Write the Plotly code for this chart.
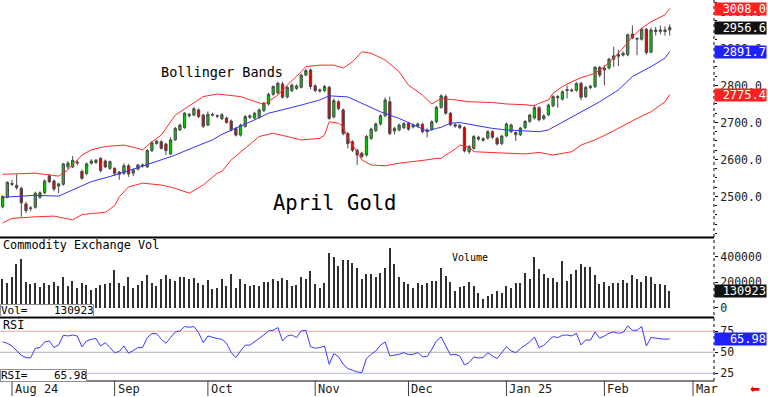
import plotly.graph_objects as go
import pandas as pd

# ---------------- data ----------------
opens = [2472,2498,2535,2530,2522,2480,2467,2471,2498,2510,2556,2542,2528,2533,2580,2580,2593,2568,2562,2590,
         2592,2603,2596,2576,2576,2566,2563,2583,2563,2574,2583,2580,2624,2643,2648,2642,2615,2653,2680,2686,
         2718,2720,2734,2720,2693,2722,2718,2710,2712,2704,2684,2666,2689,2714,2712,2714,2732,2750,2776,2780,
         2804,2769,2786,2792,2795,2828,2842,2799,2785,2786,2795,2715,2756,2734,2670,2648,2625,2617,2612,2657,
         2678,2696,2718,2756,2677,2680,2686,2698,2688,2690,2695,2675,2682,2702,2741,2770,2725,2694,2692,2686,
         2621,2630,2655,2652,2658,2675,2657,2643,2664,2675,2673,2667,2686,2703,2712,2740,2710,2721,2745,2770,
         2763,2786,2788,2787,2806,2770,2794,2797,2849,2847,2847,2871,2884,2882,2883,2939,2925,2925,2952,2890,
         2950,2946,2950,2950]
highs = [2503,2541,2545,2560,2526,2486,2474,2513,2514,2546,2561,2546,2537,2591,2596,2609,2598,2573,2592,2601,
         2601,2606,2600,2597,2579,2569,2590,2588,2575,2588,2589,2628,2650,2653,2652,2645,2660,2688,2697,2728,
         2726,2742,2738,2724,2730,2727,2722,2725,2716,2708,2688,2697,2720,2722,2729,2738,2756,2780,2800,2810,
         2810,2799,2805,2803,2832,2845,2846,2803,2792,2801,2799,2765,2760,2738,2674,2652,2629,2621,2666,2686,
         2700,2722,2768,2770,2688,2697,2701,2702,2697,2700,2699,2684,2706,2745,2776,2776,2729,2698,2696,2690,
         2639,2666,2664,2660,2679,2679,2661,2667,2700,2697,2676,2688,2706,2723,2748,2744,2722,2750,2774,2774,
         2787,2800,2792,2809,2810,2799,2802,2853,2853,2855,2875,2905,2896,2892,2940,2962,2930,2956,2956,2956,
         2958,2962,2960,2965]
lows = [2468,2495,2528,2518,2445,2455,2460,2467,2494,2506,2536,2514,2509,2529,2574,2577,2584,2545,2557,2586,
        2588,2565,2577,2572,2555,2545,2558,2553,2555,2570,2578,2577,2620,2640,2627,2612,2612,2650,2677,2683,
        2714,2717,2712,2685,2690,2716,2712,2706,2697,2676,2662,2662,2686,2710,2708,2710,2728,2746,2772,2776,
        2765,2765,2782,2788,2792,2825,2790,2782,2780,2782,2707,2711,2733,2665,2630,2620,2585,2603,2608,2653,
        2674,2692,2714,2666,2668,2676,2682,2678,2684,2686,2671,2660,2678,2698,2737,2721,2690,2686,2682,2619,
        2615,2626,2651,2648,2654,2656,2638,2639,2660,2671,2650,2663,2682,2699,2708,2703,2706,2717,2741,2740,
        2759,2765,2782,2783,2760,2766,2790,2793,2822,2800,2843,2850,2852,2878,2879,2925,2882,2921,2883,2887,
        2935,2938,2935,2935]
closes = [2500,2538,2533,2524,2483,2462,2469,2509,2510,2542,2540,2520,2534,2588,2590,2598,2591,2549,2588,2596,
          2598,2570,2580,2594,2563,2560,2583,2561,2572,2585,2585,2624,2645,2650,2630,2624,2653,2684,2693,2725,
          2722,2737,2716,2690,2722,2720,2717,2721,2700,2680,2666,2693,2716,2718,2725,2734,2752,2776,2797,2806,
          2768,2795,2801,2799,2828,2840,2797,2786,2788,2797,2711,2759,2737,2670,2643,2625,2612,2608,2662,2682,
          2696,2718,2761,2670,2684,2693,2697,2682,2693,2696,2675,2680,2702,2741,2772,2725,2694,2690,2686,2623,
          2635,2662,2660,2656,2675,2660,2642,2663,2696,2693,2667,2685,2703,2720,2740,2707,2718,2747,2770,2767,
          2783,2789,2786,2805,2768,2795,2798,2849,2828,2842,2871,2880,2879,2887,2937,2928,2927,2952,2889,2950,
          2946,2950,2946,2956.6]

volume = [221,195,242,339,378,200,187,190,163,195,174,200,169,242,169,208,156,195,174,137,
          156,174,182,195,292,195,169,242,156,174,208,252,195,169,221,252,226,208,242,242,
          221,234,195,174,216,148,156,221,169,260,156,221,182,169,174,169,200,200,226,208,
          234,216,169,174,242,226,286,182,156,190,425,399,326,373,373,346,312,226,260,260,
          242,268,312,469,339,242,200,182,156,195,174,195,208,208,307,247,200,129,163,169,
          200,169,111,64,90,103,129,116,169,150,195,195,268,226,399,299,260,234,234,203,
          365,208,260,294,339,320,318,252,182,200,169,190,190,216,190,252,226,200,247,242,
          182,182,177,130.923]
volume = [v * 1000 for v in volume]

rsi = [62.3,60.7,57.5,51.6,46.4,43.6,43.3,54.8,55.6,62.3,63.5,55.6,58.7,70.2,69.4,70.6,69.4,56.4,63.5,65.5,
       66.3,57.5,61.5,55.6,49.6,50.8,57.5,48.8,52.4,55.6,55.6,67.5,72.2,72.2,65.5,60.7,67.5,74.2,75.4,80.6,
       79.8,80.6,73.4,61.5,69.4,67.5,66.3,65.5,60.7,49.6,43.6,51.6,58.5,58.5,62.3,66.3,70.6,75.4,76.2,79.4,
       63.5,69.4,70.6,67.5,75.4,76.2,56.7,54.8,55.6,57.5,35.7,48.4,44.8,35.7,30.6,28.6,26.6,25.8,42.5,47.6,
       51.6,58.5,62.3,45.6,46.4,47.6,49.6,47.2,47.6,49.6,44.8,44.8,53.6,63.5,68.3,57.5,46.8,47.6,45.6,34.9,
       37.7,44.4,43.3,43.6,49.6,45.6,42.5,49.6,56.7,51.6,49.6,54.4,58.3,62.3,68.3,55.6,58.3,63.5,68.7,67.5,
       70.2,70.6,69.4,72.6,58.7,64.7,64.3,74.2,66.7,69.4,72.6,74.2,72.6,73.4,81.3,76.2,76.2,80.6,57.5,67.5,
       66.7,66.7,65.5,65.98]

upper_idx = [0,7,12,14,17,19,22,26,29,30,32,34,37,39,41,43,46,48,51,54,56,59,61,64,65,68,71,73,75,77,79,82,85,87,
             90,92,94,97,100,105,108,112,114,115,117,118,120,122,124,127,129,131,133,135,137,139,142,143]
upper = [2560,2563,2555,2572,2612,2626,2635,2639,2630,2626,2648,2666,2720,2736,2752,2770,2777,2774,2770,2757,2749,
         2774,2801,2837,2851,2855,2855,2847,2864,2891,2887,2869,2837,2801,2774,2750,2765,2761,2756,2754,2750,2748,
         2745,2752,2761,2779,2797,2810,2821,2833,2851,2874,2901,2932,2955,2972,2991,3008.0]
middle_idx = [0,3,7,12,15,19,23,27,30,34,37,41,45,47,50,54,57,61,64,68,70,74,77,81,85,88,91,93,94,96,98,101,105,108,
              112,115,117,118,121,124,128,132,135,139,142,143]
middle = [2498,2501,2503,2501,2518,2540,2554,2569,2582,2599,2612,2633,2653,2668,2684,2707,2725,2737,2747,2761,2772,
          2769,2752,2729,2711,2693,2677,2684,2687,2698,2700,2693,2684,2680,2678,2675,2680,2687,2707,2729,2756,2788,
          2824,2851,2874,2891.7]
lower_idx = [0,2,7,11,15,17,19,22,24,25,27,30,34,37,40,43,46,47,49,52,55,58,61,64,68,69,70,72,73,74,76,77,79,82,85,
             88,91,93,94,95,97,98,100,101,105,108,112,115,118,122,124,127,130,134,136,139,142,143]
lower = [2428,2441,2445,2447,2437,2451,2454,2457,2475,2499,2526,2536,2531,2522,2509,2531,2563,2568,2599,2630,2662,
         2671,2662,2653,2657,2666,2702,2698,2689,2657,2621,2599,2585,2583,2590,2594,2599,2603,2603,2612,2628,2639,
         2633,2621,2618,2617,2615,2619,2612,2621,2639,2653,2671,2698,2711,2729,2756,2775.4]

price_ticks = [2500, 2600, 2700, 2800, 2900, 3000]
vol_ticks = [0, 200000, 400000]
rsi_ticks = [25, 50, 75]
month_labels = ["Aug 24", "Sep", "Oct", "Nov", "Dec", "Jan 25", "Feb", "Mar"]
holidays = ["2024-09-02", "2024-11-28", "2024-12-25", "2025-01-01", "2025-01-20", "2025-02-17"]

# ---------------- positions ----------------
days = [d for d in pd.bdate_range("2024-07-30", "2025-03-07") if d.strftime("%Y-%m-%d") not in holidays]
idx = list(range(len(closes)))
month_pos = [k for k in range(1, len(days)) if days[k].month != days[k - 1].month]

W, H = 768, 397
PL, PR, PT, PB = 0, 714, 0, 381
def px(x):
    return (x - PL) / (PR - PL)
def py(y):
    return (PB - y) / (PB - PT)

MONO = "DejaVu Sans Mono"

fig = go.Figure()
fig.add_trace(go.Candlestick(
    x=idx, open=opens, high=highs, low=lows, close=closes,
    increasing=dict(fillcolor="#00cc00", line=dict(color="#4a4a4a", width=1)),
    decreasing=dict(fillcolor="#dd0000", line=dict(color="#4a4a4a", width=1)),
    whiskerwidth=0, xaxis="x", yaxis="y", hoverinfo="skip"))
fig.add_trace(go.Scatter(x=upper_idx, y=upper, mode="lines", line=dict(color="#ff2a2a", width=1), yaxis="y"))
fig.add_trace(go.Scatter(x=lower_idx, y=lower, mode="lines", line=dict(color="#ff2a2a", width=1), yaxis="y"))
fig.add_trace(go.Scatter(x=middle_idx, y=middle, mode="lines", line=dict(color="#3333ff", width=1), yaxis="y"))
fig.add_trace(go.Bar(x=idx, y=volume, width=0.32, marker=dict(color="#303030", line=dict(width=0)), yaxis="y2"))
fig.add_trace(go.Scatter(x=idx, y=rsi, mode="lines", line=dict(color="#3a3aff", width=1), yaxis="y3"))

axis_common = dict(side="right", anchor="x", showgrid=False, zeroline=False, showline=False, automargin=False,
                   ticks="outside", ticklen=3, tickcolor="#000", tickfont=dict(family=MONO, size=11.5, color="#202020"))

fig.update_layout(
    width=W, height=H, margin=dict(l=PL, r=W - PR, t=PT, b=H - PB, autoexpand=False),
    paper_bgcolor="white", plot_bgcolor="white", showlegend=False, bargap=0,
    xaxis=dict(range=[-0.57, 152.5], showticklabels=False, showgrid=False, zeroline=False, ticks="",
               rangeslider=dict(visible=False), showline=False, automargin=False),
    yaxis=dict(domain=[py(237), 1], range=[2390.5, 3031], tickvals=price_ticks,
               ticktext=[f"{v:.1f}" for v in price_ticks],
               minor=dict(ticks="outside", ticklen=2, dtick=25, tickcolor="#000"), **axis_common),
    yaxis2=dict(domain=[py(317), py(238)], range=[-74500, 545000], tickvals=vol_ticks,
                ticktext=[str(v) for v in vol_ticks], **axis_common),
    yaxis3=dict(domain=[0, py(318)], range=[15.8, 90.8], tickvals=rsi_ticks,
                ticktext=[str(v) for v in rsi_ticks], **axis_common),
)

shapes = []
# RSI reference lines
for val, col in zip(rsi_ticks, ["#b4b4ff", "#b0b0b0", "#f4a8a8"]):
    shapes.append(dict(type="line", xref="paper", yref="y3", x0=0, x1=1, y0=val, y1=val,
                       line=dict(color=col, width=1), layer="below"))
# panel separators
for yy in [237.5, 317.5]:
    shapes.append(dict(type="line", xref="paper", yref="paper", x0=0, x1=1, y0=py(yy), y1=py(yy),
                       line=dict(color="#000", width=2)))
shapes.append(dict(type="line", xref="paper", yref="paper", x0=0, x1=1, y0=0, y1=0, line=dict(color="#000", width=1)))
shapes.append(dict(type="line", xref="paper", yref="paper", x0=1, x1=1, y0=0, y1=1,
                   line=dict(color="#000", width=1, dash="dot")))
# month tick marks
for m in month_pos:
    shapes.append(dict(type="line", xref="x", yref="paper", x0=m, x1=m, y0=0, y1=py(396),
                       line=dict(color="#404040", width=1)))
fig.update_layout(shapes=shapes)

ann = []
for m, lab in zip(month_pos, month_labels):
    ann.append(dict(x=m, xref="x", y=py(389), yref="paper", text=lab, showarrow=False,
                    xanchor="left", yanchor="middle", xshift=1, font=dict(family=MONO, size=12, color="#202020")))

def box(text, yval, yref, color):
    return dict(x=1, xref="paper", y=yval, yref=yref, text=text, showarrow=False, xanchor="left",
                yanchor="middle", xshift=0, width=51, height=12, align="right", bgcolor=color,
                borderpad=0, font=dict(family=MONO, size=12, color="white"))

ann += [box("3008.0", upper[-1], "y", "#ff2020"),
        box("2956.6", closes[-1], "y", "#111111"),
        box("2891.7", middle[-1], "y", "#2020ff"),
        box("2775.4", lower[-1], "y", "#ff2020"),
        box(f"{volume[-1]:.0f}", volume[-1], "y2", "#111111"),
        box(f"{rsi[-1]:.2f}", rsi[-1], "y3", "#2020ff")]

def label(text, x, y, size, anchor="left"):
    return dict(x=px(x), xref="paper", y=py(y), yref="paper", text=text, showarrow=False,
                xanchor=anchor, yanchor="middle", font=dict(family=MONO, size=size, color="#000"))

NB = "\u00a0"
ann += [label("Bollinger Bands", 159, 72, 13.5),
        label("April Gold", 271, 203, 20.5),
        label("Commodity Exchange Vol", 1, 245, 11.8),
        label("Volume", 450, 257.5, 10),
        label("RSI", 1, 325, 11.8)]
ann.append(dict(x=0, xref="paper", y=py(310), yref="paper", text="Vol=" + NB * 4 + f"{volume[-1]:.0f}",
                showarrow=False, xanchor="left", yanchor="middle", width=92, height=11, align="left",
                bgcolor="white", bordercolor="#909090", borderwidth=1, borderpad=0,
                font=dict(family=MONO, size=11, color="#000")))
ann.append(dict(x=0, xref="paper", y=py(375), yref="paper", text="RSI=" + NB * 4 + f"{rsi[-1]:.2f}",
                showarrow=False, xanchor="left", yanchor="middle", width=85, height=11, align="left",
                bgcolor="white", bordercolor="#909090", borderwidth=1, borderpad=0,
                font=dict(family=MONO, size=11, color="#000")))
ann.append(dict(x=px(755), xref="paper", y=py(389), yref="paper", text="\u2b05", showarrow=False,
                xanchor="center", yanchor="middle", font=dict(family="DejaVu Sans", size=12, color="#ee0000")))
fig.update_layout(annotations=ann)

fig.write_html("out.html", config={"displayModeBar": False},
               post_script="document.body.style.margin='0';document.body.style.overflow='hidden';")
